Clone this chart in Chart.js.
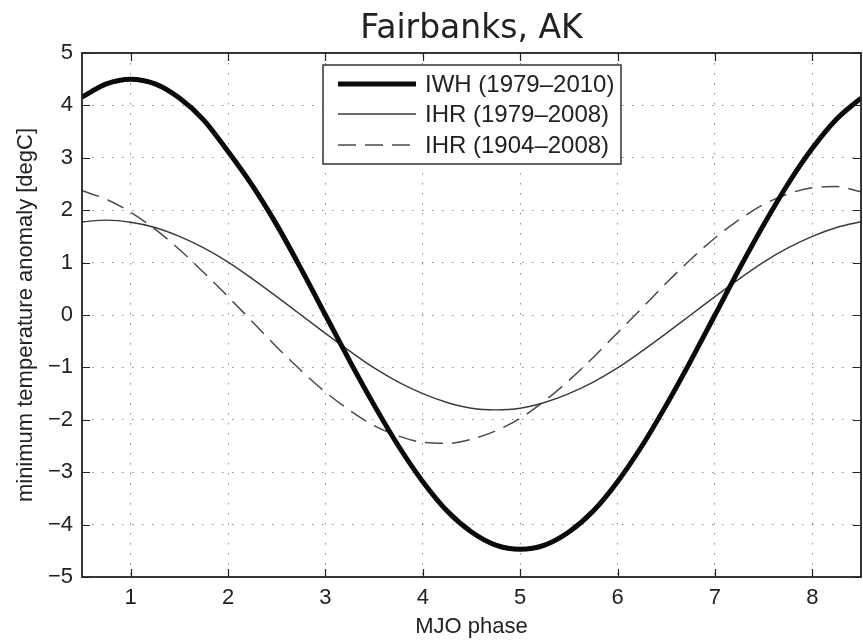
<!DOCTYPE html>
<html>
<head>
<meta charset="utf-8">
<title>Fairbanks, AK</title>
<script src="https://cdn.jsdelivr.net/npm/chart.js@4"></script>
<style>
  html, body { margin: 0; padding: 0; background: #fff; }
  #wrap { width: 863px; height: 641px; }
</style>
</head>
<body>
<div id="wrap"><canvas id="mjo-chart" width="863" height="641"></canvas></div>
<script>
const phases = [0.5, 0.75, 1, 1.25, 1.5, 1.75, 2, 2.25, 2.5, 2.75, 3, 3.25, 3.5, 3.75, 4, 4.25,
                4.5, 4.75, 5, 5.25, 5.5, 5.75, 6, 6.25, 6.5, 6.75, 7, 7.25, 7.5, 7.75, 8, 8.25, 8.5];

// IWH (1979-2010), thick line
const iwh = [4.16, 4.41, 4.5, 4.41, 4.14, 3.72, 3.12, 2.47, 1.72, 0.88, 0.0, -0.88, -1.72, -2.5, -3.18, -3.74,
             -4.14, -4.39, -4.47, -4.39, -4.14, -3.74, -3.18, -2.5, -1.72, -0.88, 0.0, 0.88, 1.72, 2.5, 3.18, 3.74, 4.14];

// IHR (1979-2008), thin line
const ihrRecent = [1.78, 1.81, 1.77, 1.67, 1.5, 1.28, 1.01, 0.69, 0.35, 0.0, -0.35, -0.69, -1.01, -1.28, -1.5, -1.67,
                   -1.78, -1.81, -1.78, -1.67, -1.5, -1.28, -1.01, -0.69, -0.35, 0.0, 0.35, 0.69, 1.01, 1.28, 1.5, 1.67, 1.78];

// IHR (1904-2008), dashed line
const ihrLong = [2.37, 2.21, 1.96, 1.64, 1.25, 0.81, 0.35, -0.13, -0.61, -1.06, -1.47, -1.82, -2.11, -2.31, -2.43, -2.45,
                 -2.37, -2.21, -1.97, -1.64, -1.25, -0.81, -0.34, 0.13, 0.61, 1.06, 1.47, 1.82, 2.11, 2.31, 2.43, 2.45, 2.35];

const seriesLabels = ["IWH (1979–2010)", "IHR (1979–2008)", "IHR (1904–2008)"];
const xTicks = [1, 2, 3, 4, 5, 6, 7, 8];
const yTicks = [-5, -4, -3, -2, -1, 0, 1, 2, 3, 4, 5];

const sansFont = "'Liberation Sans', Arial, Helvetica, sans-serif";
const textColor = '#222';

function toPoints(values) {
    return phases.map((p, i) => ({ x: p, y: values[i] }));
}

// Box round the axes, inward tick marks, legend and title (MATLAB look)
const matlabFrame = {
    id: 'matlabFrame',
    afterDatasetsDraw(chart) {
        const { ctx, chartArea: a, scales: { x, y } } = chart;
        ctx.save();

        // inward ticks on all four sides
        ctx.strokeStyle = '#222';
        ctx.lineWidth = 1.2;
        ctx.beginPath();
        x.ticks.forEach(t => {
            const px = Math.round(x.getPixelForValue(t.value)) + 0.5;
            ctx.moveTo(px, a.bottom); ctx.lineTo(px, a.bottom - 8);
            ctx.moveTo(px, a.top); ctx.lineTo(px, a.top + 8);
        });
        y.ticks.forEach(t => {
            const py = Math.round(y.getPixelForValue(t.value)) + 0.5;
            ctx.moveTo(a.left, py); ctx.lineTo(a.left + 8, py);
            ctx.moveTo(a.right, py); ctx.lineTo(a.right - 8, py);
        });
        ctx.stroke();

        // frame
        ctx.lineWidth = 1.8;
        ctx.strokeRect(a.left, a.top, a.right - a.left, a.bottom - a.top);

        // legend box
        const box = { left: 323, top: 65, width: 298, height: 99 };
        ctx.fillStyle = '#fff';
        ctx.fillRect(box.left, box.top, box.width, box.height);
        ctx.lineWidth = 1.5;
        ctx.strokeStyle = '#333';
        ctx.strokeRect(box.left, box.top, box.width, box.height);

        const rows = [84, 114, 145];
        ctx.font = '24px ' + sansFont;
        ctx.textBaseline = 'middle';
        ctx.textAlign = 'left';
        chart.data.datasets.forEach((ds, i) => {
            ctx.beginPath();
            ctx.strokeStyle = ds.borderColor;
            ctx.lineWidth = ds.borderWidth;
            ctx.setLineDash(ds.borderDash || []);
            ctx.moveTo(338, rows[i]);
            ctx.lineTo(416, rows[i]);
            ctx.stroke();
            ctx.setLineDash([]);
            ctx.fillStyle = textColor;
            ctx.fillText(ds.label, 425, rows[i] + 1);
        });

        // title centred on the plot area
        ctx.font = "33px 'DejaVu Sans', sans-serif";
        ctx.fillStyle = textColor;
        ctx.textAlign = 'center';
        ctx.textBaseline = 'alphabetic';
        ctx.fillText('Fairbanks, AK', (a.left + a.right) / 2, 38);

        ctx.restore();
    }
};

const gridStyle = {
    color: 'rgba(0, 0, 0, 0.45)',
    lineWidth: 1,
    drawTicks: false
};

// dotted grid lines (v4 keeps the grid dash under "border")
const borderStyle = { display: false, dash: [1.5, 8.5] };

function drawChart() {
    const ctx = document.getElementById('mjo-chart').getContext('2d');

    new Chart(ctx, {
        type: 'line',
        data: {
            datasets: [
                {
                    label: seriesLabels[0],
                    data: toPoints(iwh),
                    borderColor: '#0a0a0a',
                    borderWidth: 5,
                    pointRadius: 0,
                    cubicInterpolationMode: 'monotone'
                },
                {
                    label: seriesLabels[1],
                    data: toPoints(ihrRecent),
                    borderColor: '#3a3a3a',
                    borderWidth: 1.4,
                    pointRadius: 0,
                    cubicInterpolationMode: 'monotone'
                },
                {
                    label: seriesLabels[2],
                    data: toPoints(ihrLong),
                    borderColor: '#4a4a4a',
                    borderWidth: 1.5,
                    borderDash: [18, 9],
                    pointRadius: 0,
                    cubicInterpolationMode: 'monotone'
                }
            ]
        },
        options: {
            responsive: false,
            animation: false,
            layout: { padding: { top: 53, right: 2, left: 0, bottom: 0 } },
            plugins: {
                legend: { display: false },
                title: { display: false },
                tooltip: { enabled: false }
            },
            scales: {
                x: {
                    type: 'linear',
                    min: 0.5,
                    max: 8.5,
                    border: borderStyle,
                    grid: gridStyle,
                    afterBuildTicks: (axis) => {
                        axis.ticks = xTicks.map(v => ({ value: v }));
                    },
                    afterFit: (scale) => { scale.height = 64; },
                    ticks: {
                        padding: 8,
                        color: textColor,
                        font: { family: sansFont, size: 22 },
                        callback: (v) => String(v)
                    },
                    title: {
                        display: true,
                        text: 'MJO phase',
                        color: textColor,
                        font: { family: sansFont, size: 22 },
                        padding: { top: 0, bottom: 1 }
                    }
                },
                y: {
                    type: 'linear',
                    min: -5,
                    max: 5,
                    border: borderStyle,
                    grid: gridStyle,
                    afterBuildTicks: (axis) => {
                        axis.ticks = yTicks.map(v => ({ value: v }));
                    },
                    afterFit: (scale) => { scale.width = 82; },
                    ticks: {
                        padding: 9,
                        color: textColor,
                        font: { family: sansFont, size: 22 },
                        callback: (v) => String(v).replace('-', '\u2212')
                    },
                    title: {
                        display: true,
                        text: 'minimum temperature anomaly [degC]',
                        color: textColor,
                        font: { family: sansFont, size: 22 },
                        padding: { top: 13, bottom: 0 }
                    }
                }
            }
        },
        plugins: [matlabFrame]
    });
}

window.addEventListener('load', () => {
    drawChart();
});
</script>
</body>
</html>
